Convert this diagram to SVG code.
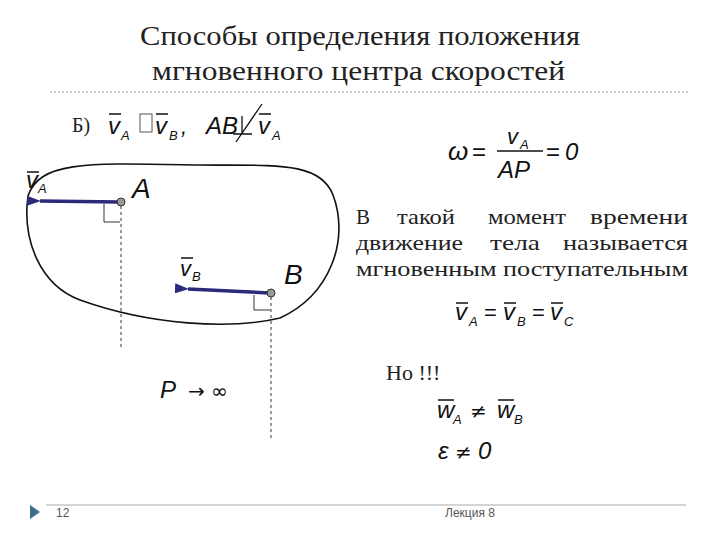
<svg xmlns="http://www.w3.org/2000/svg" width="720" height="540" viewBox="0 0 720 540">
<style>
.t{font-family:"Liberation Serif",serif;fill:#222}
.m{font-family:"Liberation Sans",sans-serif;font-style:italic;fill:#111}
.s{font-family:"Liberation Sans",sans-serif;font-style:italic;fill:#111;font-size:13px}
.ov{stroke:#111;stroke-width:1.5}
.d{stroke:#333;stroke-width:1;stroke-dasharray:3,3;fill:none}
</style>
<defs><marker id="ah" markerWidth="14" markerHeight="10" refX="1" refY="5" orient="auto-start-reverse" markerUnits="userSpaceOnUse"><path d="M14,0 L0,5 L14,10 Z" fill="#2a2a7a"/></marker></defs>
<rect width="720" height="540" fill="#fff"/>
<g id="title"><text class="t" x="140" y="45" font-size="27" textLength="440" lengthAdjust="spacingAndGlyphs">Способы определения положения</text>
<text class="t" x="152" y="80" font-size="27" textLength="413" lengthAdjust="spacingAndGlyphs">мгновенного центра скоростей</text></g>
<line x1="50" y1="92" x2="690" y2="92" stroke="#999" stroke-dasharray="2,2"/>
<g id="cond"><text class="t" x="72" y="132" font-size="20">Б)</text>
<text class="m" x="108" y="134" font-size="24">v</text><text class="s" x="121" y="140">A</text>
<rect x="140" y="114" width="12" height="18" fill="none" stroke="#555"/>
<text class="m" x="155" y="134" font-size="24">v</text><text class="s" x="169" y="140">B</text><text class="m" x="181" y="134" font-size="22">,</text>
<text class="m" x="206" y="134" font-size="24">AB</text>
<path d="M233,134 L252,134 M242,134 L242,116 M236,142 L262,104" stroke="#111" stroke-width="1.3" fill="none"/>
<text class="m" x="258" y="134" font-size="24">v</text><text class="s" x="272" y="140">A</text></g>
<g id="body"><path d="M28,196 C40,160 90,163 200,165 C270,166 320,160 333,195 C350,240 330,295 280,318 C230,330 150,325 80,300 C40,285 22,240 28,196 Z" fill="none" stroke="#111" stroke-width="1.6"/></g>
<g id="connectors">
<line x1="120" y1="202" x2="40" y2="201" stroke="#2a2a7a" stroke-width="3.5" marker-end="url(#ah)"/>
<line x1="270" y1="293" x2="188" y2="289" stroke="#2a2a7a" stroke-width="3.5" marker-end="url(#ah)"/>
<line x1="121" y1="206" x2="121" y2="350" class="d"/>
<line x1="271" y1="297" x2="271" y2="440" class="d"/>
<path d="M104,204 V222 H120" fill="none" stroke="#333"/>
<path d="M254,295 V310 H270" fill="none" stroke="#333"/>
</g>
<g id="pointA"><circle cx="121" cy="202" r="4" fill="#999" stroke="#333"/><text class="m" x="132" y="198" font-size="28" font-style="normal">A</text>
<text class="m" x="26" y="188" font-size="24">v</text><text class="s" x="38" y="193">A</text></g>
<g id="pointB"><circle cx="271" cy="293" r="4" fill="#999" stroke="#333"/><text class="m" x="284" y="284" font-size="28" font-style="normal">B</text>
<text class="m" x="180" y="276" font-size="22">v</text><text class="s" x="192" y="281">B</text></g>
<g id="P"><text class="m" x="160" y="398" font-size="24">P</text><text x="188" y="398" font-family="DejaVu Sans,sans-serif" font-size="20" fill="#111">→ ∞</text></g>
<g id="omega"><text class="m" x="448" y="160" font-size="26">ω</text><text x="472" y="160" font-family="Liberation Sans,sans-serif" font-size="24" fill="#111">=</text>
<line x1="497" y1="151" x2="543" y2="151" stroke="#111" stroke-width="1.5"/>
<text class="m" x="507" y="144" font-size="22">v</text><text class="s" x="520" y="149">A</text>
<text class="m" x="498" y="178" font-size="24">AP</text>
<text x="546" y="160" font-family="Liberation Sans,sans-serif" font-size="24" fill="#111">=</text><text class="m" x="565" y="160" font-size="24">0</text></g>
<g id="desc" class="t" font-size="21">
<text x="356" y="224" textLength="14" lengthAdjust="spacingAndGlyphs">В</text><text x="397" y="224" textLength="58" lengthAdjust="spacingAndGlyphs">такой</text><text x="488" y="224" textLength="78" lengthAdjust="spacingAndGlyphs">момент</text><text x="590" y="224" textLength="98" lengthAdjust="spacingAndGlyphs">времени</text>
<text x="356" y="250" textLength="107" lengthAdjust="spacingAndGlyphs">движение</text><text x="490" y="250" textLength="50" lengthAdjust="spacingAndGlyphs">тела</text><text x="563" y="250" textLength="125" lengthAdjust="spacingAndGlyphs">называется</text>
<text x="356" y="276" textLength="332" lengthAdjust="spacingAndGlyphs">мгновенным поступательным</text></g>
<g id="eq"><text class="m" x="455" y="320" font-size="24">v</text><text class="s" x="469" y="326">A</text>
<text x="484" y="320" font-family="Liberation Sans,sans-serif" font-size="22" fill="#111">=</text>
<text class="m" x="503" y="320" font-size="24">v</text><text class="s" x="517" y="326">B</text>
<text x="532" y="320" font-family="Liberation Sans,sans-serif" font-size="22" fill="#111">=</text>
<text class="m" x="550" y="320" font-size="24">v</text><text class="s" x="564" y="326">C</text>
<path d="M456,303 h12 M504,303 h12 M551,303 h12" class="ov"/></g>
<g id="but"><text class="t" x="386" y="380" font-size="22">Но  !!!</text>
<text class="m" x="437" y="418" font-size="24">w</text><text class="s" x="453" y="424">A</text>
<text x="470" y="418" font-family="DejaVu Sans,sans-serif" font-size="20" fill="#111">≠</text>
<text class="m" x="497" y="418" font-size="24">w</text><text class="s" x="514" y="424">B</text>
<path d="M438,400 h16 M498,400 h16" class="ov"/>
<text class="m" x="438" y="459" font-size="24">ε</text><text x="455" y="459" font-family="DejaVu Sans,sans-serif" font-size="20" fill="#111">≠</text><text class="m" x="478" y="459" font-size="24">0</text></g>
<path d="M109,114 h12 M156,114 h12 M259,114 h12 M27,172 h12 M181,258 h12" class="ov"/>
<g id="footer"><line x1="46" y1="505" x2="686" y2="505" stroke="#aaa"/>
<path d="M30,505 L40,512 L30,519 Z" fill="#3a6e8a"/>
<text x="56" y="517" font-family="Liberation Sans,sans-serif" font-size="12" fill="#555">12</text>
<text x="470" y="517" font-family="Liberation Sans,sans-serif" font-size="12" fill="#555" text-anchor="middle">Лекция 8</text></g>
</svg>
